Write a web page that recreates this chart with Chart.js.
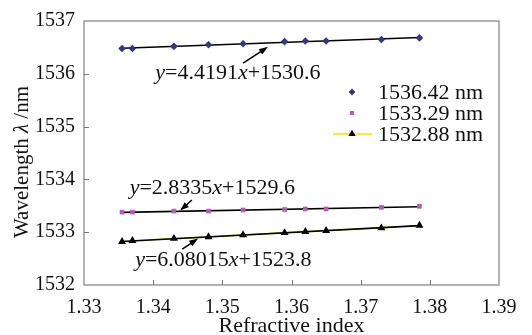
<!DOCTYPE html>
<html>
<head>
<meta charset="utf-8">
<script src="https://cdn.jsdelivr.net/npm/chart.js@4"></script>
<style>
html,body{margin:0;padding:0;background:#fff;}
#wrap{width:532px;height:335px;position:relative;}
</style>
</head>
<body>
<div id="wrap"><canvas id="c" width="532" height="335"></canvas></div>
<script>
// ---- data ----
const refractiveIndex = [1.3355, 1.337, 1.343, 1.348, 1.353, 1.359, 1.362, 1.365, 1.373, 1.3785];
const wl1536 = [1536.48, 1536.48, 1536.52, 1536.55, 1536.57, 1536.61, 1536.62, 1536.62, 1536.65, 1536.68];
const wl1533 = [1533.38, 1533.38, 1533.40, 1533.40, 1533.42, 1533.43, 1533.44, 1533.44, 1533.47, 1533.49];
const wl1532 = [1532.82, 1532.84, 1532.88, 1532.91, 1532.95, 1532.99, 1533.01, 1533.03, 1533.08, 1533.13];
const seriesLabels = ['1536.42 nm', '1533.29 nm', '1532.88 nm'];
const xTicks = [1.33, 1.34, 1.35, 1.36, 1.37, 1.38, 1.39];
const yTicks = [1532, 1533, 1534, 1535, 1536, 1537];
const fitEquations = [
  {slope: '4.4191', icpt: '1530.6'},
  {slope: '2.8335', icpt: '1529.6'},
  {slope: '6.08015', icpt: '1523.8'}
];
// label anchor (data coords) and arrow tail/head (data coords)
const eqLabelPos = [[1.3403, 1536.02], [1.3366, 1533.83], [1.3374, 1532.46]];
const arrowTail = [[1.3530, 1536.20], [1.3456, 1533.61], [1.3442, 1532.68]];
const arrowHead = [[1.3566, 1536.51], [1.3439, 1533.41], [1.3465, 1532.88]];

const SERIF = '"Liberation Serif", "Times New Roman", serif';

function toXY(ys){ return refractiveIndex.map((x,i)=>({x:x, y:ys[i]})); }
function fitLine(ys){
  const n = ys.length;
  let sx=0, sy=0, sxx=0, sxy=0;
  for (let i=0;i<n;i++){ const x=refractiveIndex[i]; sx+=x; sy+=ys[i]; sxx+=x*x; sxy+=x*ys[i]; }
  const b = (n*sxy - sx*sy)/(n*sxx - sx*sx);
  const a = (sy - b*sx)/n;
  const x0 = refractiveIndex[0], x1 = refractiveIndex[n-1];
  return [{x:x0, y:a+b*x0}, {x:x1, y:a+b*x1}];
}

const colors = ['#36367a', '#b35db5', '#000000'];
const styles = ['rectRot', 'rect', 'triangle'];
const radii = [3.8, 3.3, 4.6];

const datasets = [
  {label: seriesLabels[0], data: toXY(wl1536), showLine:false, pointStyle:styles[0], pointRadius:radii[0], backgroundColor:colors[0], borderColor:colors[0], borderWidth:0},
  {label: seriesLabels[1], data: toXY(wl1533), showLine:false, pointStyle:styles[1], pointRadius:radii[1], backgroundColor:colors[1], borderColor:colors[1], borderWidth:0},
  {label: seriesLabels[2], data: toXY(wl1532), showLine:false, pointStyle:styles[2], pointRadius:radii[2], backgroundColor:colors[2], borderColor:colors[2], borderWidth:0},
  {label: 'fit1', data: fitLine(wl1536), showLine:true, pointRadius:0, borderColor:'#000', borderWidth:1.6},
  {label: 'fit2', data: fitLine(wl1533), showLine:true, pointRadius:0, borderColor:'#000', borderWidth:1.6},
  {label: 'fit3', data: fitLine(wl1532), showLine:true, pointRadius:0, borderColor:'#000', borderWidth:1.6},
  {label: 'conn3', data: toXY(wl1532), showLine:true, pointRadius:0, borderColor:'#f2e600', borderWidth:1.4}
];

function drawArrow(ctx, x1, y1, x2, y2){
  const ang = Math.atan2(y2-y1, x2-x1);
  const L = 9, W = 3.2;
  ctx.save();
  ctx.strokeStyle = '#000'; ctx.fillStyle = '#000'; ctx.lineWidth = 1.5;
  ctx.beginPath();
  ctx.moveTo(x1, y1);
  ctx.lineTo(x2 - Math.cos(ang)*L*0.8, y2 - Math.sin(ang)*L*0.8);
  ctx.stroke();
  ctx.beginPath();
  ctx.moveTo(x2, y2);
  ctx.lineTo(x2 - Math.cos(ang)*L - Math.sin(ang)*W, y2 - Math.sin(ang)*L + Math.cos(ang)*W);
  ctx.lineTo(x2 - Math.cos(ang)*L + Math.sin(ang)*W, y2 - Math.sin(ang)*L - Math.cos(ang)*W);
  ctx.closePath();
  ctx.fill();
  ctx.restore();
}

function drawRich(ctx, parts, x, y){
  let cx = x;
  parts.forEach(p=>{
    ctx.font = (p.it ? 'italic ' : '') + p.size + 'px ' + SERIF;
    ctx.fillText(p.t, cx, y);
    cx += ctx.measureText(p.t).width;
  });
}

const overlay = {
  id: 'overlay',
  afterDatasetsDraw(chart){
    const ctx = chart.ctx;
    const xs = chart.scales.x, ys = chart.scales.y;
    const ca = chart.chartArea;
    ctx.save();
    // frame
    ctx.strokeStyle = '#9a9a9a'; ctx.lineWidth = 1.5;
    ctx.strokeRect(ca.left, ca.top, ca.right-ca.left, ca.bottom-ca.top);
    // inward ticks
    ctx.strokeStyle = '#777'; ctx.lineWidth = 1;
    xTicks.forEach(v=>{
      const px = Math.round(xs.getPixelForValue(v))+0.5;
      if (v===xTicks[0] || v===xTicks[xTicks.length-1]) return;
      ctx.beginPath(); ctx.moveTo(px, ca.bottom); ctx.lineTo(px, ca.bottom-5); ctx.stroke();
    });
    yTicks.forEach(v=>{
      const py = Math.round(ys.getPixelForValue(v))+0.5;
      if (v===yTicks[0] || v===yTicks[yTicks.length-1]) return;
      ctx.beginPath(); ctx.moveTo(ca.left, py); ctx.lineTo(ca.left+5, py); ctx.stroke();
    });
    // equations
    ctx.fillStyle = '#111';
    ctx.textBaseline = 'middle';
    ctx.textAlign = 'left';
    fitEquations.forEach((e,i)=>{
      const px = xs.getPixelForValue(eqLabelPos[i][0]);
      const py = ys.getPixelForValue(eqLabelPos[i][1]);
      drawRich(ctx, [
        {t:'y', it:true, size:22}, {t:'=' + e.slope, size:22},
        {t:'x', it:true, size:22}, {t:'+' + e.icpt, size:22}
      ], px, py);
      drawArrow(ctx, xs.getPixelForValue(arrowTail[i][0]), ys.getPixelForValue(arrowTail[i][1]),
                xs.getPixelForValue(arrowHead[i][0]), ys.getPixelForValue(arrowHead[i][1]));
    });
    // legend
    const lx = 352, ly0 = 92, dy = 21;
    seriesLabels.forEach((lab,i)=>{
      const y = ly0 + i*dy;
      if (i===2){
        ctx.strokeStyle = '#f2e600'; ctx.lineWidth = 1.5;
        ctx.beginPath(); ctx.moveTo(333, y); ctx.lineTo(372, y); ctx.stroke();
      }
      ctx.fillStyle = colors[i]; ctx.strokeStyle = colors[i];
      Chart.helpers.drawPoint(ctx, {pointStyle: styles[i], radius: radii[i] - 0.4, borderWidth:0}, lx, y);
      ctx.fillStyle = '#111';
      ctx.textBaseline = 'middle'; ctx.textAlign = 'left';
      ctx.font = '22px ' + SERIF;
      ctx.fillText(lab, 378, y + 1);
    });
    // y-axis title
    ctx.save();
    ctx.translate(28, 162);
    ctx.rotate(-Math.PI/2);
    ctx.fillStyle = '#111';
    ctx.textBaseline = 'alphabetic';
    const parts = [{t:'Wavelength ', size:21}, {t:'λ', it:true, size:21}, {t:' /nm', size:21}];
    let tw = 0;
    parts.forEach(p=>{ ctx.font=(p.it?'italic ':'')+p.size+'px '+SERIF; tw += ctx.measureText(p.t).width; });
    ctx.textAlign = 'left';
    drawRich(ctx, parts, -tw/2, 0);
    ctx.restore();
    ctx.restore();
  }
};

new Chart(document.getElementById('c'), {
  type: 'scatter',
  data: { datasets },
  options: {
    responsive: false,
    animation: false,
    devicePixelRatio: 1,
    layout: { padding: { top: 11, right: 33, left: 0, bottom: 0 } },
    plugins: { legend: { display: false }, tooltip: { enabled: false } },
    scales: {
      x: {
        type: 'linear', min: 1.33, max: 1.39,
        afterBuildTicks: s => { s.ticks = xTicks.map(v=>({value:v})); },
        afterFit: s => { s.height = 50; },
        grid: { display: false, drawTicks: false },
        border: { display: false },
        ticks: { color: '#111', font: { family: SERIF, size: 20 }, padding: 11,
                 callback: v => v.toFixed(2), maxRotation: 0, autoSkip: false },
        title: { display: true, text: 'Refractive index', color: '#111',
                 font: { family: SERIF, size: 22 }, padding: { top: 0, bottom: -4 } }
      },
      y: {
        type: 'linear', min: 1532, max: 1537,
        afterBuildTicks: s => { s.ticks = yTicks.map(v=>({value:v})); },
        afterFit: s => { s.width = 84; },
        grid: { display: false, drawTicks: false },
        border: { display: false },
        ticks: { color: '#111', font: { family: SERIF, size: 20 }, padding: 9,
                 callback: v => String(v), autoSkip: false }
      }
    }
  },
  plugins: [overlay]
});
</script>
</body>
</html>
